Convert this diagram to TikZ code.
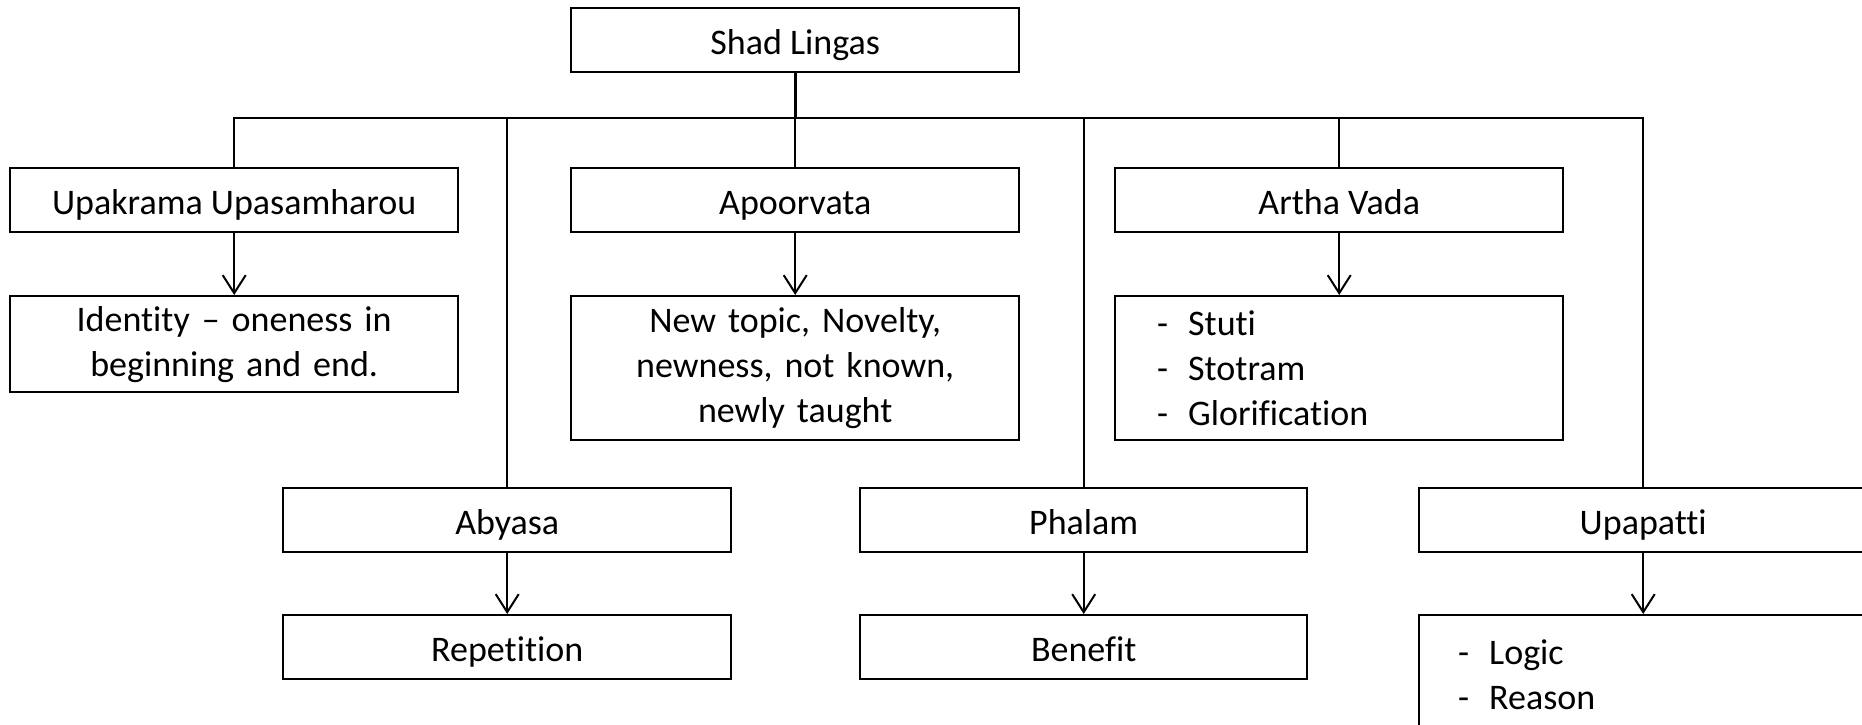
\documentclass[tikz,border=0pt]{standalone}
\usepackage{fontspec}
\setmainfont[RawFeature={-liga}]{Carlito}
\usetikzlibrary{arrows.meta}

\begin{document}
\begin{tikzpicture}[x=1pt, y=-1pt,
  boxbase/.style={draw, line width=2.4pt, fill=white, anchor=north west,
    minimum width=448pt, minimum height=64pt, inner sep=0pt,
    font=\fontsize{36}{45}\selectfont},
  box/.style={boxbase, text height=36pt, text depth=8pt},
  tallbox/.style={boxbase, text width=448pt, align=center},
  listbox/.style={boxbase, inner xsep=42pt, text width=364pt, align=left},
  conn/.style={line width=2.2pt},
  trunk/.style={line width=3pt},
  arr/.style={line width=2pt, -{Straight Barb[length=18pt, width=23pt, line width=2pt]}}
]
\newcommand{\itemdash}{\makebox[31pt][l]{-}}
\useasboundingbox (0,0) rectangle (1862,725);
\clip (0,0) rectangle (1862,725);

% root
\node[box] (shad) at (570,7) {Shad Lingas};

% first row of categories
\node[box] (upak)  at (9,167)    {Upakrama Upasamharou};
\node[box] (apoo)  at (570,167)  {Apoorvata};
\node[box] (artha) at (1114,167) {Artha Vada};

\node[tallbox, minimum height=96pt]  (ident) at (9,295)
  {Identity \textendash{} oneness in\\beginning and end.};
\node[tallbox, minimum height=144pt] (newt)  at (570,295)
  {New topic, Novelty,\\newness, not known,\\newly taught};
\node[listbox, minimum height=144pt] (stuti) at (1114,295)
  {\itemdash Stuti\\\itemdash Stotram\\\itemdash Glorification};

% second row of categories
\node[box] (abyasa) at (282,487)  {Abyasa};
\node[box, minimum width=447pt] (phalam) at (859,487) {Phalam};
\node[box] (upap)   at (1418,487) {Upapatti};

\node[box] (rep)  at (282,614) {Repetition};
\node[box, minimum width=447pt] (ben) at (859,614) {Benefit};
\node[listbox, inner xsep=39pt, text width=370pt, minimum height=120pt] (logic) at (1418,614)
  {\itemdash Logic\\\itemdash Reason};

% bus from the root
\coordinate (hub) at (shad.south |- 0,118);
\draw[trunk] (shad.south) -- (hub);
\draw[conn] (hub) -| (upak.north);
\draw[conn] (hub) -| (apoo.north);
\draw[conn] (hub) -| (artha.north);
\draw[conn] (hub) -| (abyasa.north);
\draw[conn] (hub) -| (phalam.north);
\draw[conn] (hub) -| (upap.north);

% explanations
\draw[arr] (upak.south)   -- (ident.north);
\draw[arr] (apoo.south)   -- (newt.north);
\draw[arr] (artha.south)  -- (stuti.north);
\draw[arr] (abyasa.south) -- (rep.north);
\draw[arr] (phalam.south) -- (ben.north);
\draw[arr] (upap.south)   -- (logic.north);
\end{tikzpicture}
\end{document}
